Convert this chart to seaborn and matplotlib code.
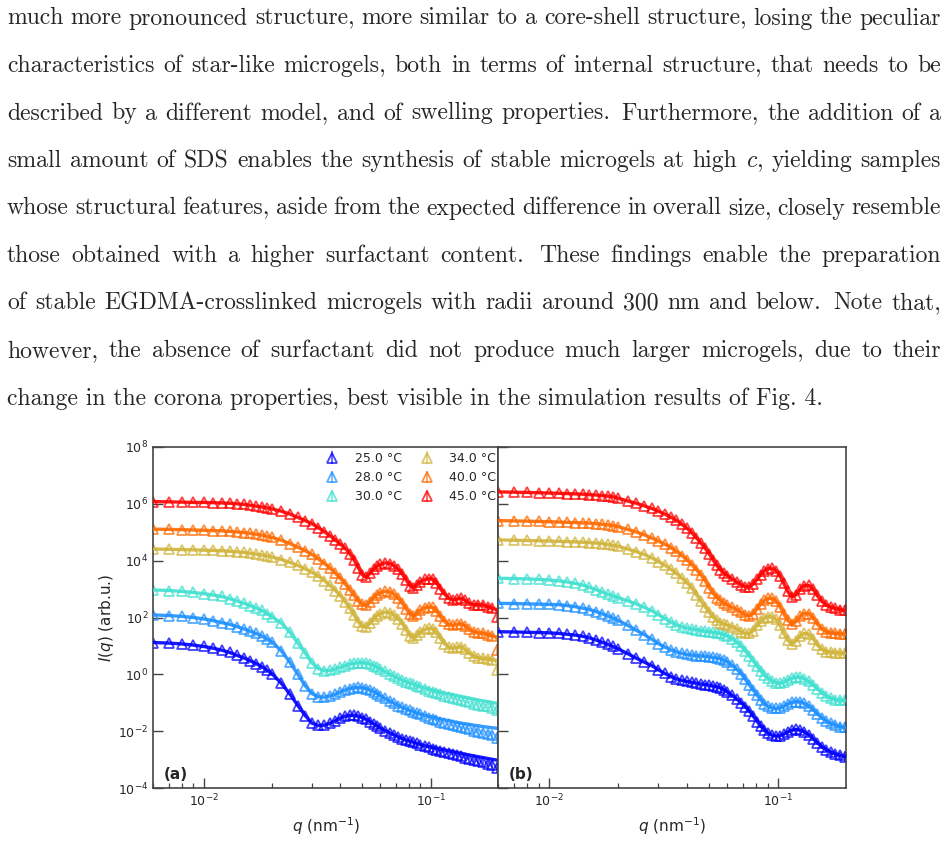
import matplotlib
matplotlib.use("Agg")
import numpy as np
import pandas as pd
import seaborn as sns
import matplotlib.pyplot as plt
from matplotlib.ticker import LogLocator, NullFormatter, NullLocator

# scattering vector grid (nm^-1), same for both panels
q = [0.006, 0.007, 0.008, 0.009, 0.010, 0.011, 0.012, 0.013, 0.014, 0.015,
     0.016, 0.017, 0.018, 0.019, 0.020, 0.022, 0.024, 0.026, 0.028, 0.030,
     0.032, 0.034, 0.036, 0.038, 0.040, 0.042, 0.044, 0.046, 0.048, 0.050,
     0.052, 0.054, 0.056, 0.058, 0.060, 0.063, 0.066, 0.069, 0.072, 0.075,
     0.078, 0.081, 0.084, 0.087, 0.090, 0.094, 0.098, 0.102, 0.106, 0.110,
     0.115, 0.120, 0.125, 0.130, 0.136, 0.142, 0.148, 0.155, 0.162, 0.170,
     0.178, 0.187, 0.196]

temps = ["25.0 °C", "28.0 °C", "30.0 °C", "34.0 °C", "40.0 °C", "45.0 °C"]
colors = ["#0000ff", "#1e90ff", "#40e0d0", "#d1b43b", "#ff6a00", "#ff0000"]

# log10 I(q) of the fit curves, panel (a)
fit_a_25 = [1.12, 1.10, 1.07, 1.03, 0.98, 0.92, 0.85, 0.77, 0.67, 0.58, 0.48, 0.38, 0.27, 0.15, 0.02,
            -0.32, -0.70, -1.10, -1.45, -1.72, -1.80, -1.79, -1.72, -1.63, -1.54, -1.47, -1.44, -1.44, -1.47, -1.52,
            -1.58, -1.66, -1.74, -1.82, -1.89, -1.98, -2.06, -2.13, -2.20, -2.26, -2.31, -2.35, -2.39, -2.43, -2.47,
            -2.51, -2.54, -2.57, -2.60, -2.63, -2.66, -2.69, -2.72, -2.75, -2.78, -2.81, -2.84,
            -2.87, -2.90, -2.93, -2.96, -2.99, -3.02]
fit_a_28 = [2.09, 2.07, 2.04, 2.00, 1.95, 1.89, 1.82, 1.76, 1.68, 1.60, 1.52, 1.44, 1.35, 1.25, 1.14,
            0.82, 0.42, 0.00, -0.40, -0.68, -0.79, -0.80, -0.76, -0.70, -0.62, -0.55, -0.50, -0.47, -0.46, -0.47,
            -0.50, -0.55, -0.61, -0.68, -0.75, -0.85, -0.94, -1.02, -1.10, -1.16, -1.22, -1.27, -1.32, -1.36, -1.40,
            -1.44, -1.48, -1.51, -1.54, -1.57, -1.60, -1.63, -1.66, -1.69, -1.72, -1.74, -1.76,
            -1.79, -1.81, -1.84, -1.86, -1.88, -1.90]
fit_a_30 = [2.97, 2.95, 2.92, 2.88, 2.84, 2.79, 2.74, 2.66, 2.58, 2.50, 2.42, 2.34, 2.25, 2.14, 2.03,
            1.80, 1.48, 1.10, 0.75, 0.40, 0.20, 0.13, 0.14, 0.19, 0.25, 0.31, 0.36, 0.39, 0.41, 0.41,
            0.40, 0.36, 0.31, 0.25, 0.19, 0.10, 0.01, -0.07, -0.14, -0.20, -0.26, -0.31, -0.35, -0.40, -0.44,
            -0.48, -0.52, -0.56, -0.59, -0.62, -0.66, -0.69, -0.72, -0.75, -0.78, -0.81, -0.84,
            -0.87, -0.90, -0.93, -0.96, -0.99, -1.02]
fit_a_34 = [4.41, 4.40, 4.39, 4.38, 4.37, 4.36, 4.35, 4.33, 4.31, 4.29, 4.26, 4.23, 4.20, 4.17, 4.13,
            4.04, 3.94, 3.83, 3.71, 3.59, 3.46, 3.30, 3.13, 2.95, 2.77, 2.55, 2.33, 2.08, 1.84, 1.69,
            1.67, 1.80, 1.95, 2.06, 2.14, 2.19, 2.17, 2.08, 1.96, 1.78, 1.56, 1.36, 1.28, 1.38, 1.50,
            1.58, 1.62, 1.61, 1.48, 1.28, 1.08, 0.96, 0.92, 0.95, 0.97, 0.88, 0.74,
            0.64, 0.58, 0.56, 0.54, 0.51, 0.49]
fit_a_40 = [5.11, 5.10, 5.09, 5.08, 5.07, 5.06, 5.05, 5.03, 5.01, 4.99, 4.96, 4.93, 4.90, 4.86, 4.82,
            4.72, 4.60, 4.47, 4.35, 4.22, 4.06, 3.90, 3.74, 3.56, 3.38, 3.18, 2.98, 2.78, 2.58, 2.46,
            2.43, 2.55, 2.70, 2.80, 2.87, 2.92, 2.90, 2.82, 2.68, 2.50, 2.30, 2.12, 2.04, 2.14, 2.26,
            2.34, 2.37, 2.36, 2.24, 2.04, 1.86, 1.76, 1.73, 1.76, 1.78, 1.70, 1.58,
            1.50, 1.46, 1.45, 1.40, 1.35, 1.31]
fit_a_45 = [6.08, 6.07, 6.06, 6.05, 6.05, 6.04, 6.03, 6.02, 6.00, 5.98, 5.95, 5.92, 5.89, 5.86, 5.82,
            5.74, 5.64, 5.52, 5.41, 5.30, 5.16, 5.02, 4.88, 4.73, 4.58, 4.44, 4.25, 4.02, 3.75, 3.50,
            3.42, 3.55, 3.70, 3.80, 3.87, 3.92, 3.90, 3.82, 3.70, 3.52, 3.32, 3.12, 3.05, 3.15, 3.26,
            3.34, 3.37, 3.36, 3.22, 3.02, 2.83, 2.68, 2.62, 2.65, 2.68, 2.60, 2.50,
            2.45, 2.45, 2.44, 2.38, 2.32, 2.28]

# log10 I(q) of the fit curves, panel (b)
fit_b_25 = [1.50, 1.49, 1.48, 1.47, 1.46, 1.44, 1.41, 1.38, 1.34, 1.28, 1.21, 1.13, 1.06, 0.98, 0.90,
            0.73, 0.57, 0.43, 0.31, 0.16, 0.03, -0.08, -0.16, -0.21, -0.25, -0.28, -0.31, -0.34, -0.36, -0.38,
            -0.41, -0.44, -0.48, -0.54, -0.62, -0.74, -0.87, -1.00, -1.14, -1.30, -1.48, -1.66, -1.82, -1.96, -2.06,
            -2.14, -2.17, -2.16, -2.10, -2.03, -1.96, -1.94, -1.96, -2.02, -2.12, -2.26, -2.40,
            -2.54, -2.65, -2.74, -2.80, -2.85, -2.90]
fit_b_28 = [2.50, 2.49, 2.48, 2.47, 2.46, 2.45, 2.42, 2.38, 2.33, 2.28, 2.21, 2.13, 2.06, 1.98, 1.90,
            1.73, 1.55, 1.40, 1.24, 1.08, 0.96, 0.86, 0.79, 0.74, 0.70, 0.68, 0.66, 0.65, 0.64, 0.62,
            0.60, 0.58, 0.55, 0.50, 0.44, 0.32, 0.18, 0.02, -0.18, -0.38, -0.56, -0.74, -0.90, -1.03, -1.12,
            -1.18, -1.20, -1.18, -1.12, -1.05, -0.98, -0.96, -0.97, -1.02, -1.11, -1.24, -1.38,
            -1.52, -1.64, -1.73, -1.79, -1.84, -1.87]
fit_b_30 = [3.38, 3.37, 3.36, 3.34, 3.32, 3.29, 3.25, 3.20, 3.14, 3.06, 2.98, 2.90, 2.82, 2.76, 2.70,
            2.59, 2.48, 2.36, 2.24, 2.10, 1.96, 1.84, 1.74, 1.67, 1.63, 1.60, 1.57, 1.54, 1.52, 1.50,
            1.48, 1.46, 1.44, 1.40, 1.35, 1.26, 1.14, 0.99, 0.82, 0.64, 0.46, 0.28, 0.12, -0.02, -0.13,
            -0.23, -0.29, -0.31, -0.27, -0.20, -0.13, -0.10, -0.10, -0.15, -0.24, -0.37, -0.50,
            -0.64, -0.76, -0.84, -0.89, -0.91, -0.92]
fit_b_34 = [4.73, 4.72, 4.71, 4.70, 4.69, 4.68, 4.67, 4.66, 4.65, 4.63, 4.62, 4.60, 4.57, 4.54, 4.51,
            4.41, 4.32, 4.22, 4.10, 3.97, 3.84, 3.70, 3.55, 3.38, 3.22, 3.04, 2.80, 2.58, 2.38, 2.18,
            2.02, 1.90, 1.82, 1.77, 1.73, 1.68, 1.60, 1.50, 1.44, 1.44, 1.54, 1.72, 1.87, 1.98, 2.03,
            2.03, 1.93, 1.72, 1.44, 1.20, 1.08, 1.18, 1.36, 1.44, 1.42, 1.26, 1.04,
            0.88, 0.80, 0.78, 0.76, 0.75, 0.74]
fit_b_40 = [5.41, 5.40, 5.39, 5.38, 5.37, 5.36, 5.35, 5.34, 5.33, 5.32, 5.30, 5.28, 5.26, 5.23, 5.20,
            5.10, 5.01, 4.91, 4.80, 4.69, 4.58, 4.46, 4.33, 4.18, 4.03, 3.86, 3.68, 3.50, 3.30, 3.05,
            2.85, 2.70, 2.60, 2.50, 2.43, 2.36, 2.28, 2.18, 2.09, 2.06, 2.14, 2.30, 2.47, 2.60, 2.67,
            2.68, 2.58, 2.38, 2.12, 1.90, 1.78, 1.86, 2.04, 2.14, 2.14, 2.00, 1.78,
            1.60, 1.50, 1.46, 1.44, 1.43, 1.42]
fit_b_45 = [6.42, 6.41, 6.40, 6.39, 6.38, 6.37, 6.36, 6.35, 6.34, 6.32, 6.31, 6.29, 6.27, 6.25, 6.20,
            6.10, 6.02, 5.93, 5.84, 5.74, 5.64, 5.53, 5.42, 5.28, 5.14, 4.98, 4.80, 4.62, 4.44, 4.24,
            4.03, 3.83, 3.68, 3.56, 3.47, 3.36, 3.25, 3.15, 3.08, 3.08, 3.18, 3.34, 3.51, 3.64, 3.72,
            3.73, 3.65, 3.46, 3.20, 2.92, 2.72, 2.80, 3.00, 3.12, 3.13, 3.00, 2.78,
            2.58, 2.44, 2.36, 2.32, 2.28, 2.25]

# measured points where they leave the fit (high-q tails of panel a)
meas_a_25 = fit_a_25[:45] + [-2.53, -2.57, -2.61, -2.65, -2.69, -2.73, -2.77, -2.81, -2.85,
                             -2.89, -2.93, -2.97, -3.01, -3.06, -3.10, -3.14, -3.18, -3.28]
meas_a_28 = fit_a_28[:45] + [-1.48, -1.53, -1.58, -1.62, -1.66, -1.70, -1.74, -1.78, -1.82,
                             -1.86, -1.90, -1.94, -1.98, -2.02, -2.06, -2.10, -2.14, -2.24]
meas_a_30 = fit_a_30[:45] + [-0.52, -0.57, -0.62, -0.66, -0.70, -0.75, -0.79, -0.83, -0.87,
                             -0.91, -0.95, -0.99, -1.03, -1.07, -1.10, -1.13, -1.17, -1.24]
meas_a_34 = fit_a_34[:-1] + [0.15]
meas_a_40 = fit_a_40[:-1] + [0.86]
meas_a_45 = fit_a_45[:-1] + [2.03]

# error half-width of the points, in decades
log_err = [0.01, 0.01, 0.01, 0.01, 0.01, 0.01, 0.01, 0.01, 0.01, 0.01, 0.01, 0.01, 0.01, 0.01, 0.01,
           0.01, 0.01, 0.01, 0.01, 0.01, 0.01, 0.01, 0.01, 0.01, 0.01, 0.01, 0.01, 0.01, 0.01, 0.01,
           0.01, 0.01, 0.01, 0.01, 0.01, 0.01, 0.01, 0.01, 0.01, 0.01, 0.01, 0.01, 0.01, 0.01, 0.01,
           0.02, 0.02, 0.02, 0.03, 0.03, 0.03, 0.04, 0.04, 0.05, 0.05, 0.06, 0.06,
           0.07, 0.08, 0.09, 0.10, 0.12, 0.20]

paragraph = [
    "much more pronounced structure, more similar to a core-shell structure, losing the peculiar",
    "characteristics of star-like microgels, both in terms of internal structure, that needs to be",
    "described by a different model, and of swelling properties.  Furthermore, the addition of a",
    "small amount of SDS enables the synthesis of stable microgels at high $c$, yielding samples",
    "whose structural features, aside from the expected difference in overall size, closely resemble",
    "those obtained with a higher surfactant content.  These findings enable the preparation",
    "of stable EGDMA-crosslinked microgels with radii around 300 nm and below.  Note that,",
    "however, the absence of surfactant did not produce much larger microgels, due to their",
    "change in the corona properties, best visible in the simulation results of Fig. 4.",
]

fits = {"a": [fit_a_25, fit_a_28, fit_a_30, fit_a_34, fit_a_40, fit_a_45],
        "b": [fit_b_25, fit_b_28, fit_b_30, fit_b_34, fit_b_40, fit_b_45]}
meas = {"a": [meas_a_25, meas_a_28, meas_a_30, meas_a_34, meas_a_40, meas_a_45],
        "b": fits["b"]}

rows = []
for panel, series in fits.items():
    for T, vals in zip(temps, series):
        for qq, v in zip(q, vals):
            rows.append({"panel": panel, "T": T, "q": qq, "I": 10 ** v})
df = pd.DataFrame(rows)

sns.set_style("ticks")
plt.rcParams["font.family"] = ["DejaVu Sans"]
palette = dict(zip(temps, colors))
spine_col = "#444444"

W, H = 948, 849
fig = plt.figure(figsize=(W / 100, H / 100), dpi=100)
ax_a = fig.add_axes([153 / W, 1 - 788 / H, 345 / W, 341 / H])
ax_b = fig.add_axes([498 / W, 1 - 788 / H, 348 / W, 341 / H], sharey=ax_a)

err = np.array(log_err)
for ax, key, tag in [(ax_a, "a", "(a)"), (ax_b, "b", "(b)")]:
    ax.set_xscale("log")
    ax.set_yscale("log")
    sns.lineplot(data=df[df.panel == key], x="q", y="I", hue="T", hue_order=temps,
                 palette=palette, estimator=None, sort=False, lw=2.4, alpha=0.9,
                 legend=False, ax=ax, zorder=3)
    for T, c, vals in zip(temps, colors, meas[key]):
        I = 10 ** np.array(vals)
        ax.errorbar(q, I, yerr=[I - I * 10 ** -err, I * 10 ** err - I], fmt="^",
                    ms=7, mfc="none", mec=c, mew=1.3, ecolor=c, elinewidth=1.1,
                    alpha=0.75, label=T, zorder=2)
    ax.set_xlim(0.00598, 0.198)
    ax.set_ylim(1e-4, 1e8)
    ax.set_yticks([10.0 ** k for k in range(-4, 9, 2)])
    ax.yaxis.set_minor_locator(NullLocator())
    ax.xaxis.set_major_locator(LogLocator(base=10))
    ax.xaxis.set_minor_locator(LogLocator(base=10, subs=np.arange(2, 10)))
    ax.xaxis.set_minor_formatter(NullFormatter())
    ax.tick_params(which="major", direction="in", length=7, width=1.0, color=spine_col,
                   labelsize=9, top=False, right=False)
    ax.tick_params(which="minor", direction="in", length=3.5, width=0.9, color=spine_col)
    for s in ax.spines.values():
        s.set_color(spine_col)
        s.set_linewidth(1.2)
    ax.set_xlabel("$q$ (nm$^{-1}$)", fontsize=11)
    ax.text(0.03, 0.018, tag, transform=ax.transAxes, fontsize=11, fontweight="bold",
            ha="left", va="bottom")

ax_a.set_ylabel("$I(q)$ (arb.u.)", fontsize=11, labelpad=1)
ax_b.set_ylabel("")
ax_b.tick_params(axis="y", labelleft=False)
ax_a.legend(ncol=2, loc="upper right", bbox_to_anchor=(1.01, 1.0), frameon=False,
            fontsize=9, columnspacing=1.0, handletextpad=0.8, borderaxespad=0.0)

# justified paragraph above the figure
fig.canvas.draw()
rend = fig.canvas.get_renderer()
txt_kw = dict(family="cmr10", math_fontfamily="cm", va="baseline", ha="left")


def text_width(s, size):
    t = fig.text(0, 0, s, fontsize=size, **txt_kw)
    w = t.get_window_extent(renderer=rend).width
    t.remove()
    return w


left, right = 7, 941
space_em = 0.24
# largest size at which every justified line still keeps a word space
sizes = []
for line in paragraph[:-1]:
    words = line.split()
    w10 = sum(text_width(w, 10) for w in words)
    sizes.append((right - left) / (w10 / 10 + space_em * (len(words) - 1) * 100 / 72))
fs = min(sizes)

for i, line in enumerate(paragraph):
    yb = 1 - (24.5 + 47.5 * i) / H
    if i == len(paragraph) - 1:
        fig.text(left / W, yb, line, fontsize=fs, **txt_kw)
        continue
    words = line.split()
    widths = [text_width(w, fs) for w in words]
    weights = [1.4 if w.endswith(".") else 1.0 for w in words[:-1]] + [0.0]
    gap = (right - left - sum(widths)) / sum(weights)
    x = left
    for w, wd, wt in zip(words, widths, weights):
        fig.text(x / W, yb, w, fontsize=fs, **txt_kw)
        x += wd + gap * wt

fig.savefig("out.png", dpi=100)
